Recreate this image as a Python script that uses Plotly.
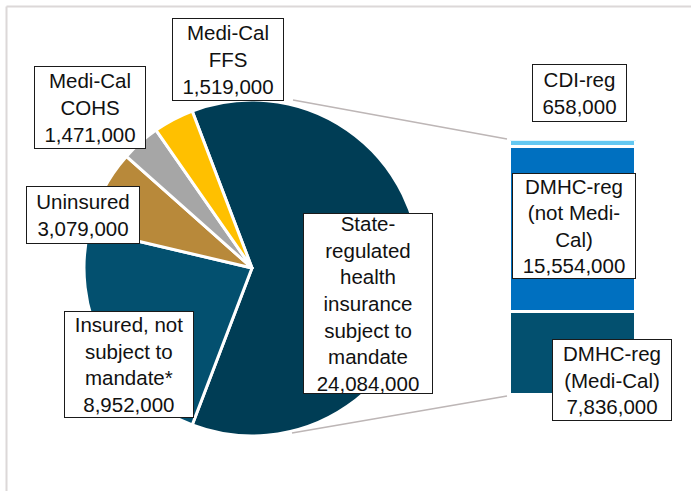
import plotly.graph_objects as go

# ---- data (people) ----
pie_labels = ["State-<br>regulated<br>health<br>insurance<br>subject to<br>mandate",
              "Insured, not<br>subject to<br>mandate*",
              "Uninsured",
              "Medi-Cal<br>COHS",
              "Medi-Cal<br>FFS"]
pie_values = [24084000, 8952000, 3079000, 1471000, 1519000]
pie_colors = ["#003D55", "#03506F", "#B8893A", "#A6A6A6", "#FFC000"]

bar_labels = ["DMHC-reg<br>(Medi-Cal)", "DMHC-reg<br>(not Medi-<br>Cal)", "CDI-reg"]
bar_values = [7836000, 15554000, 658000]
bar_colors = ["#03506F", "#0070C0", "#63C8F2"]

W, H = 691, 491
FONT = "Liberation Sans, Arial, sans-serif"

def px(x):
    return x / W

def py(y):
    return 1 - y / H

total = sum(pie_values)
rotation = 90 - 180 * pie_values[0] / total

# pie geometry (pixels)
cx, cy, r = 252, 268, 168

fig = go.Figure()
fig.add_trace(go.Pie(
    labels=[l.replace("<br>", " ") for l in pie_labels],
    values=pie_values,
    marker=dict(colors=pie_colors, line=dict(color="white", width=3)),
    sort=False, direction="clockwise", rotation=rotation,
    textinfo="none", hoverinfo="none", showlegend=False,
    domain=dict(x=[px(cx - r), px(cx + r)], y=[py(cy + r), py(cy - r)]),
))

for lab, val, col in zip(bar_labels, bar_values, bar_colors):
    fig.add_trace(go.Bar(
        x=[0], y=[val], width=1, marker=dict(color=col, line=dict(color="white", width=3)),
        showlegend=False, hoverinfo="none", name=lab.replace("<br>", " "),
    ))

bar_total = sum(bar_values)

# label boxes: (text, center x, center y, width, height) in pixels
boxes = [
    (f"{pie_labels[4]}<br>{pie_values[4]:,}", 227.5, 60, 110, 81),
    (f"{pie_labels[3]}<br>{pie_values[3]:,}", 89.5, 107, 110, 81),
    (f"{pie_labels[2]}<br>{pie_values[2]:,}", 82.5, 215.5, 112, 56),
    (f"{pie_labels[1]}<br>{pie_values[1]:,}", 128.5, 364, 128, 105),
    (f"{pie_labels[0]}<br>{pie_values[0]:,}", 367.5, 303, 128, 179),
    (f"{bar_labels[2]}<br>{bar_values[2]:,}", 579, 92.5, 93, 56),
    (f"{bar_labels[1]}<br>{bar_values[1]:,}", 573.5, 225.5, 122, 104),
    (f"{bar_labels[0]}<br>{bar_values[0]:,}", 611.5, 379.5, 118, 80),
]
annotations = []
for text, x, y, w, h in boxes:
    annotations.append(dict(
        text=text, x=px(x), y=py(y), xref="paper", yref="paper",
        xanchor="center", yanchor="middle", showarrow=False,
        width=w, height=h, align="center", valign="middle",
        bgcolor="white", bordercolor="#1A1A1A", borderwidth=1, borderpad=0,
        font=dict(family=FONT, size=20.5, color="#111111"),
    ))

line_col = "#BDB6B6"
shapes = [
    # connector lines pie -> bar
    dict(type="line", xref="paper", yref="paper", x0=px(293), y0=py(100), x1=px(507), y1=py(139),
         line=dict(color=line_col, width=1.5)),
    dict(type="line", xref="paper", yref="paper", x0=px(292), y0=py(433), x1=px(507), y1=py(396),
         line=dict(color=line_col, width=1.5)),
    # chart frame
    dict(type="line", xref="paper", yref="paper", x0=px(6.5), y0=py(6.5), x1=1, y1=py(6.5),
         line=dict(color="#DCD8D8", width=2)),
    dict(type="line", xref="paper", yref="paper", x0=px(6.5), y0=py(6.5), x1=px(6.5), y1=0,
         line=dict(color="#DCD8D8", width=2)),
]

fig.update_layout(
    width=W, height=H, margin=dict(l=0, r=0, t=0, b=0),
    paper_bgcolor="white", plot_bgcolor="rgba(0,0,0,0)",
    barmode="stack", bargap=0,
    xaxis=dict(domain=[px(510), px(636)], range=[-0.5, 0.5], visible=False, fixedrange=True),
    yaxis=dict(domain=[py(395.5), py(140.2)], range=[0, bar_total], visible=False, fixedrange=True),
    annotations=annotations, shapes=shapes, hovermode=False,
    font=dict(family=FONT),
)

fig.write_html("out.html", config={"displayModeBar": False},
               post_script="document.body.style.margin='0';document.body.style.overflow='hidden';")
